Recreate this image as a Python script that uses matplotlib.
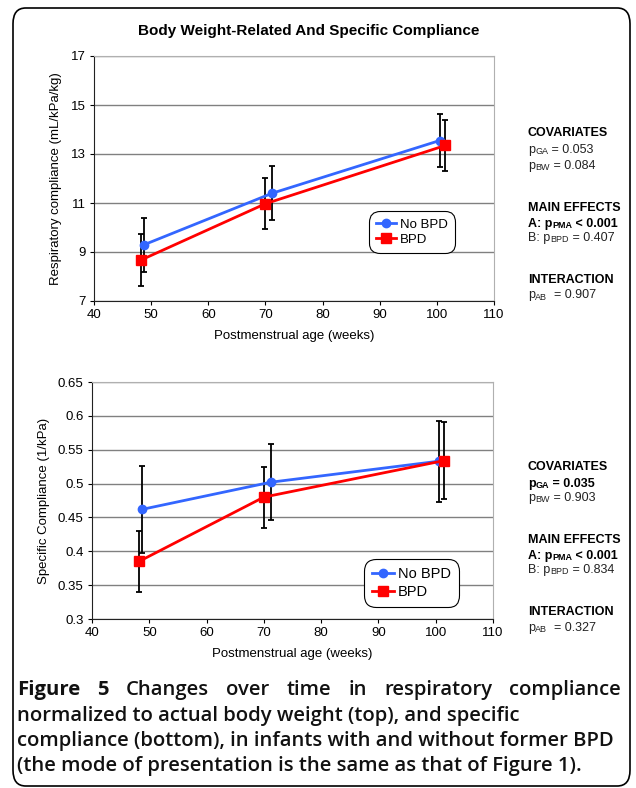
import numpy as np
import matplotlib.pyplot as plt
from matplotlib.patches import FancyBboxPatch

plt.rcParams['font.family'] = ['Liberation Sans', 'DejaVu Sans']

# data
pma_nobpd = [48.8, 71.2, 100.5]
pma_bpd = [48.2, 70.0, 101.5]

crs_nobpd = [9.3, 11.4, 13.55]
crs_nobpd_err = [1.1, 1.1, 1.1]
crs_bpd = [8.67, 10.97, 13.35]
crs_bpd_err = [1.05, 1.05, 1.05]

spec_nobpd = [0.462, 0.502, 0.533]
spec_nobpd_err = [0.064, 0.056, 0.060]
spec_bpd = [0.385, 0.480, 0.534]
spec_bpd_err = [0.045, 0.045, 0.057]

x_ticks = [40, 50, 60, 70, 80, 90, 100, 110]
top_yticks = [7, 9, 11, 13, 15, 17]
bot_yticks = [0.3, 0.35, 0.4, 0.45, 0.5, 0.55, 0.6, 0.65]
bot_ylabels = ['0.3', '0.35', '0.4', '0.45', '0.5', '0.55', '0.6', '0.65']

# each row: list of (text, is_subscript), bold flag
stats_top = [
    ([('COVARIATES', 0)], True),
    ([('p', 0), ('GA', 1), (' = 0.053', 0)], False),
    ([('p', 0), ('BW', 1), (' = 0.084', 0)], False),
    ([('MAIN EFFECTS', 0)], True),
    ([('A: p', 0), ('PMA', 1), (' < 0.001', 0)], True),
    ([('B: p', 0), ('BPD', 1), (' = 0.407', 0)], False),
    ([('INTERACTION', 0)], True),
    ([('p', 0), ('AB', 1), ('  = 0.907', 0)], False),
]
stats_bot = [
    ([('COVARIATES', 0)], True),
    ([('p', 0), ('GA', 1), (' = 0.035', 0)], True),
    ([('p', 0), ('BW', 1), (' = 0.903', 0)], False),
    ([('MAIN EFFECTS', 0)], True),
    ([('A: p', 0), ('PMA', 1), (' < 0.001', 0)], True),
    ([('B: p', 0), ('BPD', 1), (' = 0.834', 0)], False),
    ([('INTERACTION', 0)], True),
    ([('p', 0), ('AB', 1), ('  = 0.327', 0)], False),
]

W, H = 636, 788
fig = plt.figure(figsize=(W / 100, H / 100), dpi=100)

# rounded frame
frame = FancyBboxPatch((13 / W, 2 / H), 617 / W, 778 / H,
                       boxstyle='round,pad=0,rounding_size=0.02',
                       transform=fig.transFigure, fill=False,
                       edgecolor='black', linewidth=1.2)
fig.patches.append(frame)

blue = '#3366ff'
red = '#ff0000'


def style_axes(ax):
    ax.set_xlim(40, 110)
    ax.set_xticks(x_ticks)
    ax.grid(axis='y', color='#808080', linewidth=1.0)
    ax.set_axisbelow(True)
    for s in ['top', 'right']:
        ax.spines[s].set_color('#b0b0b0')
    for s in ['left', 'bottom']:
        ax.spines[s].set_color('#222222')
    ax.tick_params(direction='out', length=3, labelsize=9.5, pad=3)
    ax.set_xlabel('Postmenstrual age (weeks)', fontsize=9.5, labelpad=6)


def draw_series(ax, x1, y1, e1, x2, y2, e2):
    ax.errorbar(x1, y1, yerr=e1, fmt='none', ecolor='black', elinewidth=1.3,
                capsize=2.5, capthick=1.3, zorder=3)
    ax.errorbar(x2, y2, yerr=e2, fmt='none', ecolor='black', elinewidth=1.3,
                capsize=2.5, capthick=1.3, zorder=3)
    l1, = ax.plot(x1, y1, color=blue, linewidth=2, marker='o', markersize=6,
                  label='No BPD', zorder=4)
    l2, = ax.plot(x2, y2, color=red, linewidth=2, marker='s', markersize=6.5,
                  label='BPD', zorder=4)
    return l1, l2


def make_legend(ax, anchor, size):
    leg = ax.legend(loc='upper left', bbox_to_anchor=anchor, fontsize=size,
                    fancybox=True, edgecolor='black', framealpha=1,
                    handlelength=1.5, handletextpad=0.3, borderpad=0.55,
                    labelspacing=0.25, borderaxespad=0)
    leg.get_frame().set_linewidth(0.8)
    leg.get_frame().set_boxstyle('round,pad=0,rounding_size=0.8')
    return leg


# top panel
ax1 = fig.add_axes([94 / W, 1 - 301 / H, 400 / W, 245 / H])
style_axes(ax1)
ax1.set_ylim(7, 17)
ax1.set_yticks(top_yticks)
ax1.set_ylabel('Respiratory compliance (mL/kPa/kg)', fontsize=9.5, labelpad=6)
draw_series(ax1, pma_nobpd, crs_nobpd, crs_nobpd_err, pma_bpd, crs_bpd, crs_bpd_err)
make_legend(ax1, (0.6875, 0.367), 9.5)
fig.text(309 / W, 1 - 31 / H, 'Body Weight-Related And Specific Compliance',
         ha='center', va='center', fontsize=11, fontweight='bold')

# bottom panel
ax2 = fig.add_axes([92 / W, 1 - 619 / H, 401 / W, 237 / H])
style_axes(ax2)
ax2.set_ylim(0.3, 0.65)
ax2.set_yticks(bot_yticks)
ax2.set_yticklabels(bot_ylabels)
ax2.set_ylabel('Specific Compliance (1/kPa)', fontsize=9.5, labelpad=6)
draw_series(ax2, pma_nobpd, spec_nobpd, spec_nobpd_err, pma_bpd, spec_bpd, spec_bpd_err)
make_legend(ax2, (0.678, 0.253), 10.5)

fig.canvas.draw()
renderer = fig.canvas.get_renderer()

# statistics text, subscripts drawn as small separate pieces
top_rows = [133, 150, 166, 208, 224, 238, 280, 295]
bot_rows = [467, 484, 498, 540, 556, 570, 612, 628]
for rows, stats in [(top_rows, stats_top), (bot_rows, stats_bot)]:
    for yy, (parts, bold) in zip(rows, stats):
        xx = 528
        for txt, sub in parts:
            t = fig.text(xx / W, 1 - (yy + (2 if sub else 0)) / H, txt,
                         ha='left', va='baseline' if sub else 'center',
                         fontsize=6.5 if sub else 9,
                         fontweight='bold' if bold else 'normal',
                         color='black' if bold else '#222222')
            if sub:
                t.set_va('center')
            xx += t.get_window_extent(renderer).width

# caption, first line justified
cap_font = dict(family=['Open Sans', 'DejaVu Sans'], fontsize=14.6,
                color='#111111')
line1 = [('Figure', 'bold'), ('5', 'bold'), ('Changes', 'semibold'),
         ('over', 'semibold'), ('time', 'semibold'), ('in', 'semibold'),
         ('respiratory', 'semibold'), ('compliance', 'semibold')]
x_left, x_right = 17, 621
widths = []
for w, b in line1:
    t = fig.text(0, 0, w, fontweight=b, **cap_font)
    widths.append(t.get_window_extent(renderer).width)
    t.remove()
gap = (x_right - x_left - sum(widths)) / (len(line1) - 1)
xx = x_left
for (w, b), wd in zip(line1, widths):
    fig.text(xx / W, 1 - 690 / H, w, ha='left', va='center',
             fontweight=b, **cap_font)
    xx += wd + gap

other_lines = ['normalized to actual body weight (top), and specific',
               'compliance (bottom), in infants with and without former BPD',
               '(the mode of presentation is the same as that of Figure 1).']
for yy, ln in zip([715.5, 741, 766.5], other_lines):
    fig.text(x_left / W, 1 - yy / H, ln, ha='left', va='center',
             fontweight='semibold', **cap_font)

fig.savefig('out.png', dpi=100)
